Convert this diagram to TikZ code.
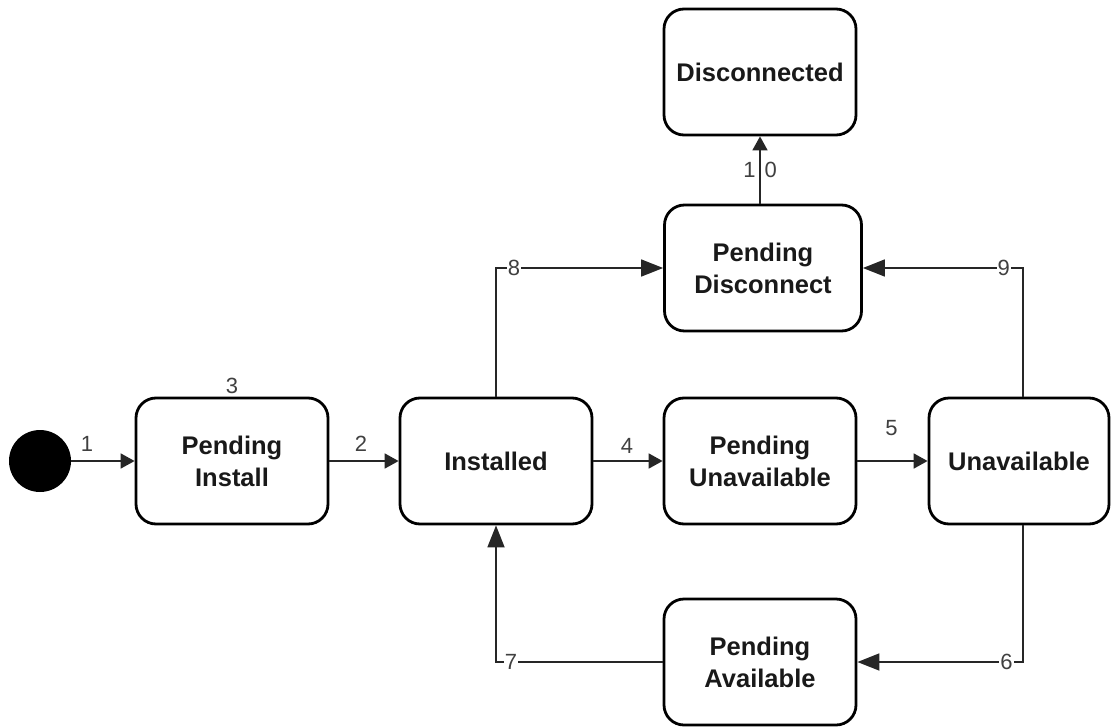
\documentclass[tikz,border=0pt]{standalone}
\usepackage{fontspec}
\setmainfont{Liberation Sans}
\usetikzlibrary{arrows.meta}
\tikzset{
  state/.style={draw, line width=2.8pt, rounded corners=20pt, minimum width=192pt,
    minimum height=126pt, align=center, text=black!90,
    font=\bfseries\fontsize{25.5}{32}\selectfont},
  trans/.style={line width=1.8pt, black!85, -{Triangle[length=14pt,width=15pt]}},
  longtrans/.style={trans, -{Triangle[length=22pt,width=17pt]}},
  num/.style={font=\fontsize{22}{22}\selectfont, text=black!75, inner sep=1pt},
}
\begin{document}
\begin{tikzpicture}[x=1pt, y=-1pt]
\useasboundingbox (0,0) rectangle (1111,728);
% states
\node[circle, fill=black, minimum size=62pt, inner sep=0pt] (init) at (40,461) {};
\node[state] (pinst) at (232,461) {Pending\\Install};
\node[state] (inst) at (496,461) {Installed};
\node[state] (punav) at (760,461) {Pending\\Unavailable};
\node[state, minimum width=180pt] (unav) at (1019,461) {Unavailable};
\node[state, minimum width=197pt] (pdisc) at (763,268) {Pending\\Disconnect};
\node[state] (disc) at (760,72) {Disconnected};
\node[state] (pavail) at (760,662) {Pending\\Available};
\node[num, above=2pt] (l3) at (pinst.north) {3};
% main row
\foreach \a/\b/\n/\dx/\dy in {init/pinst/1/-16/8, pinst/inst/2/-3/8, inst/punav/4/-1/6, punav/unav/5/-1/23} {
 \draw[trans] (\a) -- (\b) node[num, midway, above=\dy pt, xshift=\dx pt] (l\n) {\n};
}
% loops round the row
\draw[longtrans] (inst.north) |- node[num, pos=.554, fill=white] (l8) {8} (pdisc.west);
\draw[longtrans] ([xshift=4pt]unav.north) |- node[num, pos=.56, fill=white] (l9) {9} (pdisc.east);
\draw[longtrans] ([xshift=4pt]unav.south) |- node[num, pos=.55, fill=white] (l6) {6} (pavail.east);
\draw[longtrans] (pavail.west) -| node[num, pos=.455, fill=white] (l7) {7} (inst.south);
\draw[trans] (disc.south |- pdisc.north) -- node[num] (l10) {1\hspace{9pt}0} (disc.south);
\end{tikzpicture}
\end{document}
